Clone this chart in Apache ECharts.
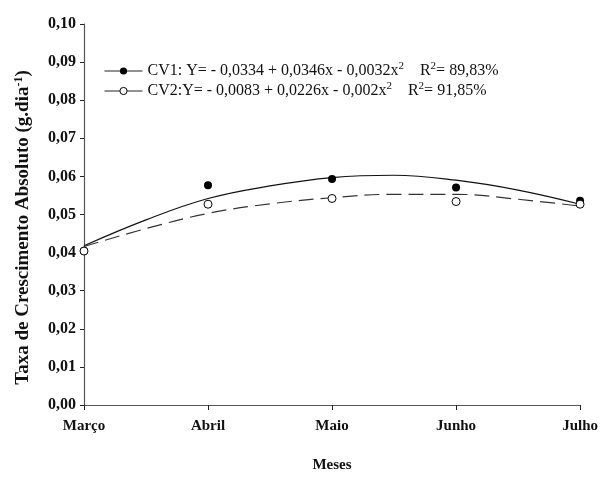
<!DOCTYPE html>
<html>
<head>
<meta charset="utf-8">
<script src="https://cdn.jsdelivr.net/npm/echarts@6/dist/echarts.min.js"></script>
<style>
  html, body { margin: 0; padding: 0; background: #fff; }
  #chart { width: 601px; height: 479px; }
</style>
</head>
<body>
<div id="chart"></div>
<script>
// months on the x axis (positions 0..4)
const months = ['Março', 'Abril', 'Maio', 'Junho', 'Julho'];
const yTicks = ['0,00', '0,01', '0,02', '0,03', '0,04', '0,05', '0,06', '0,07', '0,08', '0,09', '0,10'];

const cv1Points = [0.0405, 0.0577, 0.0593, 0.0571, 0.0536];
const cv2Points = [0.0404, 0.0527, 0.0542, 0.0534, 0.0527];

// fitted curves, every half month
const curveX = [0, 0.5, 1, 1.5, 2, 2.5, 3, 3.5, 4];
const cv1Curve = [0.0418, 0.0486, 0.0542, 0.0575, 0.0597, 0.0603, 0.0590, 0.0564, 0.0527];
const cv2Curve = [0.0416, 0.0463, 0.0503, 0.0528, 0.0544, 0.0553, 0.0553, 0.0540, 0.0522];

const cv1Label = 'CV1: Y= - 0,0334 + 0,0346x - 0,0032x{sup|2}    R{sup|2}= 89,83%';
const cv2Label = 'CV2:Y= - 0,0083 + 0,0226x - 0,002x{sup|2}    R{sup|2}= 91,85%';

const chart = echarts.init(document.getElementById('chart'));
const font = 'Liberation Serif';
const axisColor = '#555';

function pairs(xs, ys) {
  return xs.map((x, i) => [x, ys[i]]);
}

const option = {
  animation: false,
  backgroundColor: '#fff',
  textStyle: { fontFamily: font },
  grid: { left: 84, right: 18, top: 24, bottom: 74 },
  legend: {
    orient: 'vertical',
    left: 99,
    top: 56,
    itemWidth: 38,
    itemHeight: 9,
    itemGap: 0,
    selectedMode: false,
    lineStyle: { type: 'solid', width: 1, color: '#222' },
    data: [
      { name: 'cv1', itemStyle: { color: '#000' } },
      { name: 'cv2', itemStyle: { color: '#fff', borderColor: '#000', borderWidth: 1 } },
    ],
    formatter: function (name) {
      return name === 'cv1' ? cv1Label : cv2Label;
    },
    textStyle: {
      fontFamily: font,
      fontSize: 16,
      color: '#111',
      lineHeight: 20,
      rich: {
        sup: { fontSize: 11, fontFamily: font, color: '#111', verticalAlign: 'top', lineHeight: 20, padding: [0, 0, 8, 0] },
      },
    },
  },
  xAxis: {
    type: 'value',
    min: 0,
    max: 4,
    interval: 1,
    name: 'Meses',
    nameLocation: 'middle',
    nameGap: 53,
    nameTextStyle: { fontFamily: font, fontWeight: 'bold', fontSize: 15, color: '#111' },
    splitLine: { show: false },
    axisLine: { lineStyle: { color: axisColor, width: 1.2 } },
    axisTick: { show: true, length: 5, lineStyle: { color: '#222' } },
    axisLabel: {
      margin: 14,
      fontFamily: font,
      fontWeight: 'bold',
      fontSize: 15,
      color: '#111',
      formatter: function (v) {
        return months[v] || '';
      },
    },
  },
  yAxis: {
    type: 'value',
    min: 0,
    max: 0.1,
    interval: 0.01,
    name: 'Taxa de Crescimento Absoluto (g.dia{sup|-1})',
    nameLocation: 'middle',
    nameGap: 50,
    nameTextStyle: {
      fontFamily: font,
      fontWeight: 'bold',
      fontSize: 19,
      color: '#111',
      padding: [0, 26, 0, 0],
      rich: {
        sup: { fontFamily: font, fontWeight: 'bold', fontSize: 12, color: '#111', verticalAlign: 'top', padding: [0, 0, 9, 0] },
      },
    },
    splitLine: { show: false },
    axisLine: { show: true, lineStyle: { color: axisColor, width: 1.2 } },
    axisTick: { show: true, length: 4, lineStyle: { color: '#222' } },
    axisLabel: {
      margin: 8,
      fontFamily: font,
      fontWeight: 'bold',
      fontSize: 16,
      color: '#111',
      formatter: function (v) {
        return yTicks[Math.round(v * 100)];
      },
    },
  },
  series: [
    {
      name: 'cv1',
      type: 'line',
      smooth: 0.4,
      showSymbol: false,
      symbol: 'circle',
      symbolSize: 8,
      data: pairs(curveX, cv1Curve),
      lineStyle: { color: '#111', width: 1.2 },
      itemStyle: { color: '#000' },
      z: 2,
    },
    {
      name: 'cv2',
      type: 'line',
      smooth: 0.4,
      showSymbol: false,
      symbol: 'circle',
      symbolSize: 8,
      data: pairs(curveX, cv2Curve),
      lineStyle: { color: '#333', width: 1.2, type: [15, 7] },
      itemStyle: { color: '#fff', borderColor: '#000', borderWidth: 1 },
      z: 2,
    },
    {
      name: 'cv1 obs',
      type: 'scatter',
      symbol: 'circle',
      symbolSize: 8,
      data: pairs([0, 1, 2, 3, 4], cv1Points),
      itemStyle: { color: '#000', opacity: 1 },
      z: 3,
    },
    {
      name: 'cv2 obs',
      type: 'scatter',
      symbol: 'circle',
      symbolSize: 8,
      data: pairs([0, 1, 2, 3, 4], cv2Points),
      itemStyle: { color: '#fff', borderColor: '#000', borderWidth: 1, opacity: 1 },
      z: 4,
    },
  ],
};

chart.setOption(option);
</script>
</body>
</html>
